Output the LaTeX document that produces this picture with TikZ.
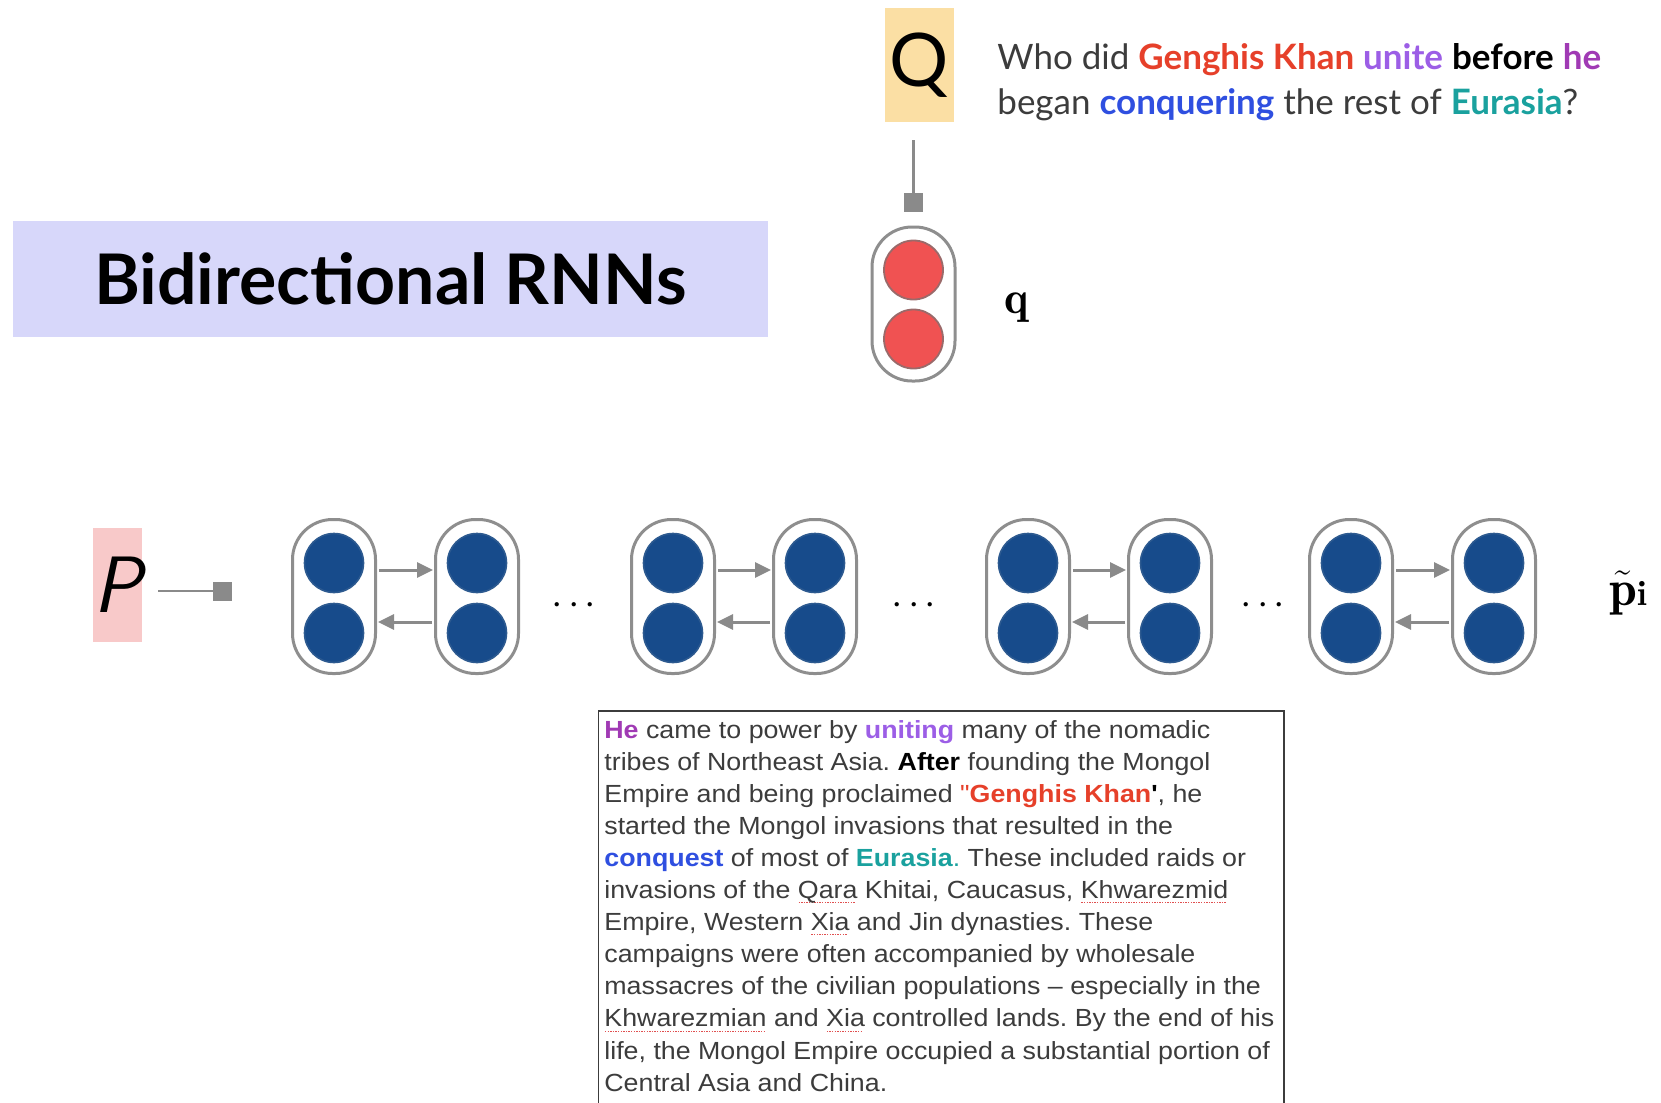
\documentclass[tikz,border=0pt]{standalone}
\usepackage{fontspec}
\usetikzlibrary{arrows.meta}
\newfontfamily\headfont{Lato}
\newfontfamily\bodyfont[FakeStretch=1.08]{Liberation Sans}

\definecolor{qbg}{HTML}{FBDFA4}
\definecolor{pbg}{HTML}{F8C9C9}
\definecolor{titlebg}{HTML}{D7D7FA}
\definecolor{navy}{HTML}{174B8B}
\definecolor{navyedge}{HTML}{2D5A90}
\definecolor{redcell}{HTML}{F05252}
\definecolor{rededge}{HTML}{9A6A6A}
\definecolor{cellgray}{HTML}{8E8E8E}
\definecolor{arrowgray}{HTML}{8A8A8A}
\definecolor{inkgray}{HTML}{3C3C3C}
\definecolor{kred}{HTML}{E6402A}
\definecolor{kpurple}{HTML}{9C5EE6}
\definecolor{kmag}{HTML}{A03AB4}
\definecolor{kblue}{HTML}{2F4FE0}
\definecolor{kteal}{HTML}{1AA19E}
\definecolor{spellred}{HTML}{E05050}

% dotted red mark under a word
\newcommand\spellmark[1]{\setbox0=\hbox{#1}\rlap{\color{spellred}\raisebox{-2.4pt}{\leaders\hbox to 1.3pt{\hss\rule{0.65pt}{0.5pt}\hss}\hskip\wd0}}\box0\relax}
\newcommand\sq{\symbol{34}}
\newcommand\ap{\symbol{39}}
\newcommand\threedots{\makebox[0pt]{·}\hspace{8.25pt}\makebox[0pt]{·}\hspace{8.25pt}\makebox[0pt]{·}}

\begin{document}
\begin{tikzpicture}[x=0.5pt, y=-0.5pt,
  capsule/.style={draw=cellgray, line width=1.5pt, rounded corners=20pt,
    minimum width=41.5pt, minimum height=77pt, inner sep=0pt, fill=white},
  navydot/.style={circle, fill=navy, draw=navyedge, line width=0.8pt,
    minimum size=29.5pt, inner sep=0pt},
  reddot/.style={circle, fill=redcell, draw=rededge, line width=0.9pt,
    minimum size=29.5pt, inner sep=0pt},
  carrow/.style={draw=arrowgray, line width=1.5pt,
    -{Triangle[length=8pt, width=7.5pt]}, shorten <=1pt, shorten >=0.5pt},
  sqline/.style={draw=arrowgray, line width=1.4pt,
    -{Square[length=9.5pt, width=9.5pt]}},
  dotsnode/.style={inner sep=0pt, anchor=base, font=\fontsize{26pt}{26pt}\selectfont},
]
\useasboundingbox (0,0) rectangle (1661,1103);

% title banner
\node[fill=titlebg, minimum width=377.5pt, minimum height=58pt, inner sep=0pt,
  font=\headfont\bfseries\fontsize{34.9pt}{40pt}\selectfont] (title) at (390.5,279)
  {Bidirectional RNNs};

% question
\node[fill=qbg, minimum width=34.5pt, minimum height=57pt, inner sep=0pt,
  font=\headfont\fontsize{37pt}{40pt}\selectfont] (Q) at (919,65) {Q};
\node[anchor=base west, inner sep=0pt, text=inkgray,
  font=\headfont\fontsize{17.5pt}{22.7pt}\selectfont] (qtext) at (997,69)
  {\vtop{\hbox{Who did \textbf{\color{kred}Genghis Khan} \textbf{\color{kpurple}unite} \textbf{\color{black}before} \textbf{\color{kmag}he}}
         \hbox{began \textbf{\color{kblue}conquering} the rest of \textbf{\color{kteal}Eurasia}?}}};

% question encoding
\node[capsule] (qcap) at (913.5,304) {};
\node[reddot] (qtop) at (913.5,270) {};
\node[reddot] (qbot) at (913.5,339) {};
\node[anchor=base, inner sep=0pt, font=\fontsize{23pt}{23pt}\selectfont] (qlabel) at (1017,313) {$\mathbf{q}$};
\draw[sqline, shorten <=9pt, shorten >=7pt] (qcap.north |- Q.south) -- (qcap.north);

% passage input
\node[fill=pbg, minimum width=24.5pt, minimum height=57pt, inner sep=0pt,
  font=\sffamily\itshape\fontsize{40pt}{40pt}\selectfont] (P) at (117.5,585) {P};

% bidirectional cells
\foreach \n/\xa/\xb in {1/334/477, 2/673/815, 3/1028/1170, 4/1351/1494} {
  \node[capsule] (c\n a) at (\xa,596.5) {};
  \node[capsule] (c\n b) at (\xb,596.5) {};
  \node[navydot] (c\n a-top) at (\xa,563) {};
  \node[navydot] (c\n a-bot) at (\xa,633) {};
  \node[navydot] (c\n b-top) at (\xb,563) {};
  \node[navydot] (c\n b-bot) at (\xb,633) {};
  \draw[carrow] ([yshift=13.25pt]c\n a.east) -- ([yshift=13.25pt]c\n b.west);
  \draw[carrow] ([yshift=-12.75pt]c\n b.west) -- ([yshift=-12.75pt]c\n a.east);
}
\draw[sqline, shorten <=8pt, shorten >=29.5pt] ([yshift=-3pt]P.east) -- ([yshift=-3pt]P.east -| c1a.west);

\node[dotsnode] (dots1) at (574,622) {\threedots};
\node[dotsnode] (dots2) at (914,622) {\threedots};
\node[dotsnode] (dots3) at (1263,622) {\threedots};

\node[anchor=base west, inner sep=0pt, font=\fontsize{25pt}{25pt}\selectfont] (plabel) at (1609,605)
  {$\tilde{\mathbf{p}}{\scriptstyle\mathbf{i}}$};

% passage text
\node[draw=inkgray, line width=0.8pt, anchor=north west, minimum width=342.75pt,
  minimum height=230pt, inner sep=0pt] (passbox) at (597.5,710) {};
\node[anchor=base west, inner sep=0pt, text=inkgray,
  font=\bodyfont\fontsize{12.4pt}{16.05pt}\selectfont] (passage) at (604,738)
  {\frenchspacing\vtop{\baselineskip=16.05pt
   \hbox{\textbf{\color{kmag}He} came to power by \textbf{\color{kpurple}uniting} many of the nomadic}
   \hbox{tribes of Northeast Asia. \textbf{\color{black}After} founding the Mongol}
   \hbox{Empire and being proclaimed {\color{kred}\sq\textbf{Genghis Khan}}\textbf{\color{black}\ap}, he}
   \hbox{started the Mongol invasions that resulted in the}
   \hbox{\textbf{\color{kblue}conquest} of most of \textbf{\color{kteal}Eurasia}{\color{kteal}.} These included raids or}
   \hbox{invasions of the \spellmark{Qara} Khitai, Caucasus, \spellmark{Khwarezmid}}
   \hbox{Empire, Western \spellmark{Xia} and Jin dynasties. These}
   \hbox{campaigns were often accompanied by wholesale}
   \hbox{massacres of the civilian populations – especially in the}
   \hbox{\spellmark{Khwarezmian} and \spellmark{Xia} controlled lands. By the end of his}
   \hbox{life, the Mongol Empire occupied a substantial portion of}
   \hbox{Central Asia and China.}}};
\end{tikzpicture}
\end{document}
